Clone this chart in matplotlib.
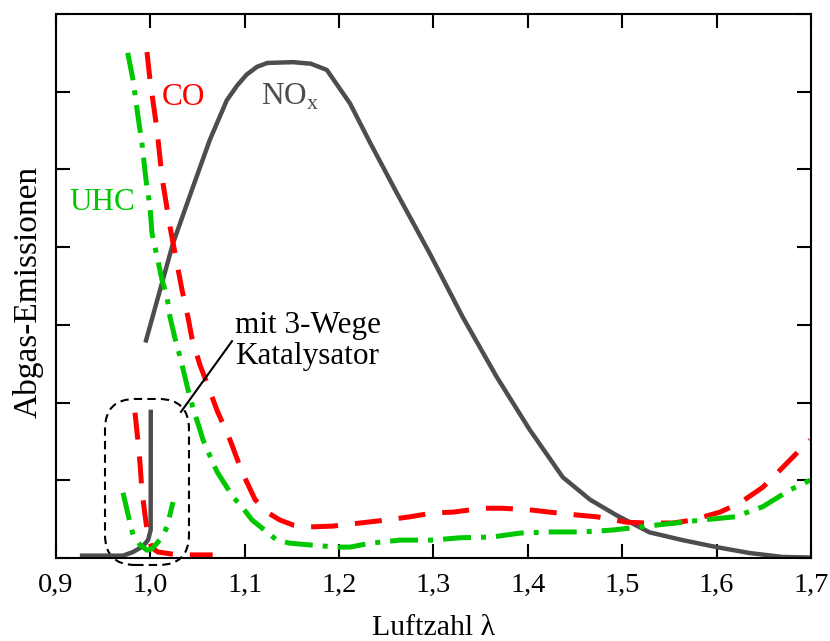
import numpy as np
import matplotlib
matplotlib.use('Agg')
import matplotlib.pyplot as plt
from matplotlib.patches import FancyBboxPatch

plt.rcParams['font.family'] = ['Liberation Serif', 'DejaVu Serif']
plt.rcParams['mathtext.fontset'] = 'custom'
plt.rcParams['mathtext.rm'] = 'Liberation Serif'

# NOx ohne Katalysator
nox_x = [0.9954, 1.024, 1.045, 1.063, 1.081, 1.092, 1.102, 1.113, 1.124, 1.151, 1.170, 1.187,
         1.2115, 1.233, 1.261, 1.296, 1.331, 1.367, 1.402, 1.437, 1.466, 1.494,
         1.529, 1.564, 1.600, 1.635, 1.670, 1.699]
nox_y = [2.80, 4.05, 4.77, 5.38, 5.89, 6.08, 6.22, 6.32, 6.37, 6.38, 6.36, 6.28,
         5.85, 5.34, 4.70, 3.92, 3.10, 2.33, 1.65, 1.04, 0.75, 0.55,
         0.33, 0.23, 0.14, 0.064, 0.013, 0.006]

# CO ohne Katalysator
co_x = [0.9964, 0.9996, 1.007, 1.0123, 1.0208, 1.0335, 1.040, 1.044, 1.0526, 1.060,
        1.0706, 1.0844, 1.097, 1.111, 1.1236, 1.137, 1.151, 1.169, 1.193, 1.222,
        1.251, 1.275, 1.2995, 1.3207, 1.352, 1.3726, 1.402, 1.423, 1.455, 1.473,
        1.505, 1.526, 1.554, 1.575, 1.6036, 1.625, 1.649, 1.664, 1.685, 1.699]
co_y = [6.51, 6.15, 5.51, 4.90, 4.26, 3.45, 3.09, 2.83, 2.48, 2.25,
        1.90, 1.52, 1.11, 0.75, 0.59, 0.49, 0.425, 0.40, 0.41, 0.45,
        0.49, 0.53, 0.58, 0.59, 0.64, 0.64, 0.62, 0.59, 0.55, 0.53,
        0.46, 0.45, 0.45, 0.49, 0.59, 0.71, 0.91, 1.09, 1.35, 1.52]

# UHC ohne Katalysator
uhc_x = [0.976, 0.9816, 0.987, 0.991, 0.9954, 0.9996, 1.0017, 1.0123, 1.0176, 1.0208,
         1.026, 1.0314, 1.040, 1.045, 1.0558, 1.065, 1.0706, 1.0876, 1.097, 1.1077,
         1.134, 1.148, 1.167, 1.198, 1.2115, 1.2327, 1.2645, 1.298, 1.328, 1.362,
         1.3917, 1.423, 1.4584, 1.490, 1.519, 1.556, 1.5856, 1.6195, 1.649, 1.6777, 1.699]
uhc_y = [6.50, 6.15, 5.67, 5.34, 4.86, 4.52, 4.18, 3.58, 3.36, 3.10,
         2.83, 2.59, 2.16, 1.94, 1.52, 1.26, 1.11, 0.785, 0.66, 0.49,
         0.23, 0.19, 0.17, 0.14, 0.14, 0.19, 0.23, 0.23, 0.26, 0.27,
         0.32, 0.335, 0.335, 0.36, 0.40, 0.45, 0.49, 0.53, 0.66, 0.875, 1.00]

# mit 3-Wege Katalysator
nox_kat_x = [0.9276, 0.971, 0.9816, 0.992, 0.9975, 1.0003, 1.0004]
nox_kat_y = [0.03, 0.03, 0.077, 0.15, 0.23, 0.36, 1.88]

co_kat_x = [0.9837, 0.987, 0.989, 0.991, 0.994, 0.9975, 1.0017, 1.008, 1.029, 1.066]
co_kat_y = [1.87, 1.48, 1.22, 0.875, 0.58, 0.27, 0.13, 0.077, 0.04, 0.04]

uhc_kat_x = [0.971, 0.9784, 0.9816, 0.989, 0.9964, 1.0017, 1.007, 1.0123, 1.0176, 1.024]
uhc_kat_y = [0.84, 0.45, 0.30, 0.17, 0.10, 0.12, 0.19, 0.27, 0.40, 0.72]

xticks = [0.9, 1.0, 1.1, 1.2, 1.3, 1.4, 1.5, 1.6, 1.7]
xticklabels = ['0,9', '1,0', '1,1', '1,2', '1,3', '1,4', '1,5', '1,6', '1,7']

grau = '#4d4d4d'
rot = '#ff0000'
gruen = '#00c800'
strich = (0, (5.4, 3.4))
strichpunkt = (0, (5.6, 2.0, 1.0, 2.0))

fig = plt.figure(figsize=(8.3, 6.41), dpi=100)
ax = fig.add_axes([0.0675, 0.1295, 0.9095, 0.8487])

ax.plot(nox_x, nox_y, color=grau, lw=3.2, solid_joinstyle='round')
ax.plot(co_x, co_y, color=rot, lw=3.6, linestyle=strich)
ax.plot(uhc_x, uhc_y, color=gruen, lw=3.6, linestyle=strichpunkt)

ax.plot(nox_kat_x, nox_kat_y, color=grau, lw=3.2, solid_joinstyle='round', clip_on=False)
ax.plot(co_kat_x, co_kat_y, color=rot, lw=3.6, linestyle=strich)
ax.plot(uhc_kat_x, uhc_kat_y, color=gruen, lw=3.6, linestyle=strichpunkt)

# gestrichelter Rahmen um die Katalysator-Kurven
rahmen = FancyBboxPatch((0.9519, -0.09), 1.0409 - 0.9519, 2.046 + 0.09,
                        boxstyle='round,pad=0,rounding_size=0.032',
                        mutation_aspect=12.1, fill=False, ec='black',
                        lw=1.5, ls=(0, (4, 2.5)), clip_on=False)
ax.add_patch(rahmen)
ax.plot([1.0324, 1.0865], [1.88, 2.79], color='black', lw=1.5)

ax.text(1.0897, 2.79, 'mit 3-Wege\nKatalysator', fontsize=22.5, ha='left',
        va='center', linespacing=1.12)
ax.text(1.0346, 5.93, 'CO', color=rot, fontsize=22.5, ha='center', va='center')
ax.text(1.148, 5.93, r'NO$_\mathrm{x}$', color=grau, fontsize=22.5, ha='center', va='center')
ax.text(0.9487, 4.57, 'UHC', color=gruen, fontsize=22.5, ha='center', va='center')

ax.set_xlim(0.9, 1.7)
ax.set_ylim(0, 7)
ax.set_xticks(xticks)
ax.set_xticklabels(xticklabels)
ax.set_yticks(range(8))
ax.set_yticklabels([])
ax.tick_params(direction='in', length=10, width=1.5, top=True, right=True,
               labelsize=20.5, pad=11)
for s in ax.spines.values():
    s.set_linewidth(1.5)

ax.set_xlabel('Luftzahl λ', fontsize=21.5)
ax.set_ylabel('Abgas-Emissionen', fontsize=24)
ax.xaxis.set_label_coords(0.5, -0.104)
ax.yaxis.set_label_coords(-0.017, 0.489)

fig.savefig('out.png', dpi=100)
